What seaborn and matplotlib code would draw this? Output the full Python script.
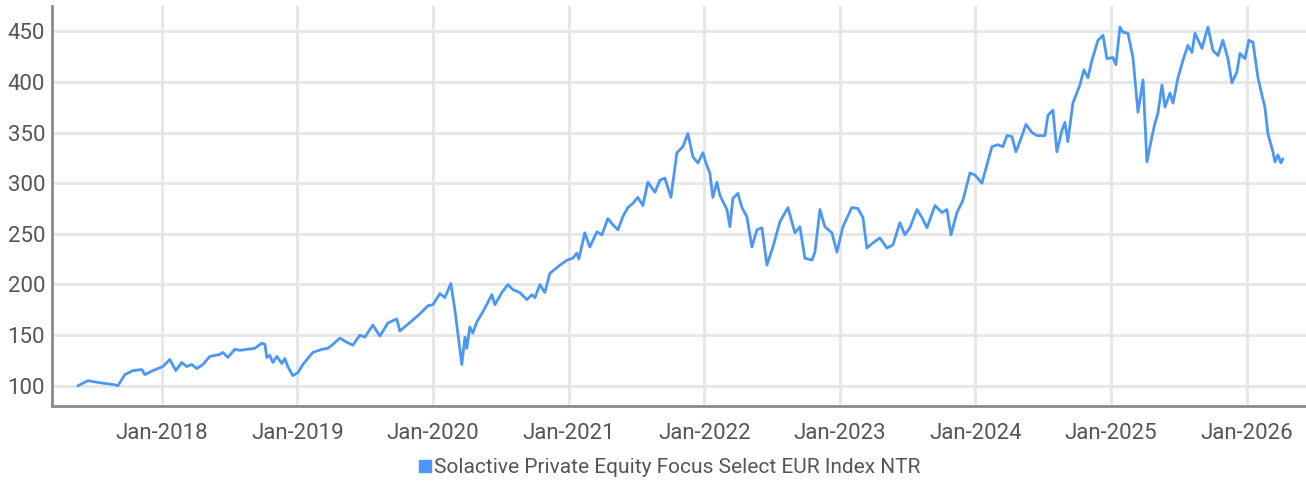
import numpy as np
import pandas as pd
import matplotlib
matplotlib.use("Agg")
import matplotlib.pyplot as plt
import matplotlib.dates as mdates
from matplotlib.lines import Line2D
import seaborn as sns

# index level, time as fractional year
years = [2017.381, 2017.454, 2017.543, 2017.653, 2017.676, 2017.727, 2017.786, 2017.853, 2017.875, 2017.934,
         2018.007, 2018.059, 2018.103, 2018.147, 2018.184, 2018.221, 2018.258, 2018.302, 2018.354, 2018.428,
         2018.450, 2018.487, 2018.538, 2018.575, 2018.627, 2018.686, 2018.737, 2018.760, 2018.774, 2018.796,
         2018.819, 2018.848, 2018.885, 2018.907, 2018.929, 2018.966, 2019.003, 2019.040, 2019.114, 2019.180,
         2019.224, 2019.254, 2019.313, 2019.364, 2019.409, 2019.460, 2019.497, 2019.556, 2019.608, 2019.667,
         2019.733, 2019.755, 2019.807, 2019.903, 2019.962, 2019.999, 2020.050, 2020.087, 2020.131, 2020.161,
         2020.183, 2020.212, 2020.235, 2020.249, 2020.271, 2020.293, 2020.323, 2020.367, 2020.434, 2020.456,
         2020.507, 2020.552, 2020.588, 2020.640, 2020.692, 2020.729, 2020.751, 2020.788, 2020.824, 2020.861,
         2020.935, 2020.987, 2021.031, 2021.060, 2021.075, 2021.119, 2021.156, 2021.208, 2021.245, 2021.289,
         2021.326, 2021.363, 2021.400, 2021.437, 2021.473, 2021.510, 2021.547, 2021.584, 2021.636, 2021.673,
         2021.709, 2021.754, 2021.798, 2021.842, 2021.879, 2021.916, 2021.953, 2021.990, 2022.012, 2022.041,
         2022.063, 2022.093, 2022.115, 2022.167, 2022.189, 2022.211, 2022.248, 2022.277, 2022.314, 2022.351,
         2022.388, 2022.425, 2022.462, 2022.506, 2022.558, 2022.617, 2022.668, 2022.705, 2022.742, 2022.794,
         2022.816, 2022.853, 2022.889, 2022.941, 2022.978, 2023.022, 2023.088, 2023.133, 2023.170, 2023.199,
         2023.243, 2023.295, 2023.347, 2023.391, 2023.442, 2023.479, 2023.516, 2023.568, 2023.605, 2023.642,
         2023.701, 2023.752, 2023.789, 2023.819, 2023.863, 2023.907, 2023.959, 2023.996, 2024.047, 2024.084,
         2024.121, 2024.165, 2024.202, 2024.232, 2024.268, 2024.298, 2024.327, 2024.372, 2024.416, 2024.453,
         2024.512, 2024.534, 2024.571, 2024.600, 2024.637, 2024.659, 2024.681, 2024.718, 2024.770, 2024.799,
         2024.829, 2024.858, 2024.903, 2024.940, 2024.969, 2025.013, 2025.035, 2025.065, 2025.087, 2025.124,
         2025.161, 2025.198, 2025.235, 2025.264, 2025.301, 2025.323, 2025.345, 2025.375, 2025.397, 2025.434,
         2025.456, 2025.493, 2025.529, 2025.566, 2025.596, 2025.618, 2025.670, 2025.692, 2025.714, 2025.751,
         2025.788, 2025.824, 2025.861, 2025.891, 2025.928, 2025.950, 2025.987, 2026.016, 2026.046, 2026.083,
         2026.112, 2026.134, 2026.156, 2026.193, 2026.208, 2026.230, 2026.252, 2026.267]

index_ntr = [100, 105, 103, 101, 100, 111, 115, 116, 111, 115,
             119, 126, 115, 123, 119, 121, 117, 121, 129, 131,
             133, 128, 136, 135, 136, 137, 142, 141, 128, 130,
             123, 129, 122, 127, 119, 110, 113, 121, 133, 136,
             137, 140, 147, 143, 140, 150, 148, 160, 149, 162,
             166, 154, 160, 171, 179, 180, 191, 187, 201, 175,
             152, 121, 148, 137, 158, 152, 163, 173, 190, 180,
             192, 200, 195, 192, 185, 190, 187, 200, 192, 211,
             219, 224, 226, 231, 225, 251, 237, 252, 249, 265,
             259, 254, 267, 276, 280, 286, 278, 301, 291, 303,
             305, 286, 330, 336, 349, 326, 320, 330, 320, 310,
             286, 301, 288, 274, 257, 285, 290, 276, 267, 237,
             254, 256, 219, 237, 262, 276, 251, 257, 226, 224,
             232, 274, 257, 251, 232, 257, 276, 275, 266, 236,
             241, 246, 236, 239, 261, 249, 256, 274, 266, 256,
             278, 271, 274, 249, 271, 283, 310, 308, 300, 318,
             336, 338, 336, 347, 346, 331, 341, 358, 350, 347,
             347, 367, 372, 331, 352, 360, 341, 379, 397, 412,
             404, 421, 441, 446, 423, 424, 417, 454, 449, 448,
             424, 370, 402, 321, 346, 359, 369, 397, 375, 389,
             379, 404, 421, 436, 429, 448, 433, 444, 454, 431,
             426, 441, 423, 399, 410, 428, 423, 441, 439, 404,
             387, 375, 349, 331, 321, 328, 320, 324]

series_name = "Solactive Private Equity Focus Select EUR Index NTR"
tick_years = list(range(2018, 2027))
y_ticks = [100, 150, 200, 250, 300, 350, 400, 450]


def to_date(y):
    return pd.Timestamp("2017-01-01") + pd.to_timedelta((y - 2017) * 365.25, unit="D")


df = pd.DataFrame({"date": [to_date(y) for y in years], "value": index_ntr})

sns.set_style("whitegrid")
plt.rcParams["font.family"] = ["Roboto", "DejaVu Sans"]

line_color = "#4B97F7"
text_color = "#555555"
fig = plt.figure(figsize=(13.06, 4.91), dpi=100)
ax = fig.add_axes([0.0398, 0.173, 0.9602, 0.815])

sns.lineplot(data=df, x="date", y="value", ax=ax, color=line_color, linewidth=2.0)

ax.set_xlim(to_date(2017.19), to_date(2026.437))
ax.set_ylim(80, 475)
ax.set_xticks([pd.Timestamp(f"{y}-01-01") for y in tick_years])
ax.xaxis.set_major_formatter(mdates.DateFormatter("Jan-%Y"))
ax.set_yticks(y_ticks)

ax.grid(True, color="#e6e6e6", linewidth=2)
for side in ["top", "right"]:
    ax.spines[side].set_visible(False)
for side in ["left", "bottom"]:
    ax.spines[side].set_color("#8a8a8a")
    ax.spines[side].set_linewidth(2)

ax.tick_params(axis="both", length=0, labelsize=16, labelcolor=text_color)
ax.tick_params(axis="x", pad=12)
ax.tick_params(axis="y", pad=5)
ax.set_xlabel("")
ax.set_ylabel("")

handle = Line2D([], [], marker="s", linestyle="none", markersize=8,
                markerfacecolor=line_color, markeredgecolor=line_color)
fig.legend([handle], [series_name], loc="center", bbox_to_anchor=(0.512, 0.047),
           frameon=False, handletextpad=0.05, handlelength=0.8,
           prop={"size": 15}, labelcolor=text_color)

plt.savefig("out.png", dpi=100)
